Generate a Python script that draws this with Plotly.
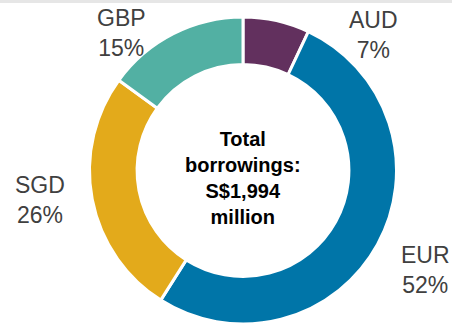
import plotly.graph_objects as go

currencies = ["AUD", "EUR", "SGD", "GBP"]
shares = [7, 52, 26, 15]
colors = ["#62305E", "#0075A8", "#E3AA1B", "#52B0A3"]
center_text = "Total<br>borrowings:<br>S$1,994<br>million"

W, H = 452, 324


def px(x, y):
    # window pixel -> paper coords
    return x / W, 1 - y / H


label_px = {
    "AUD": (373, 35),
    "EUR": (425, 270),
    "SGD": (40, 200),
    "GBP": (121, 33),
}

fig = go.Figure(go.Pie(
    labels=currencies,
    values=shares,
    marker=dict(colors=colors, line=dict(color="white", width=3)),
    hole=0.69,
    sort=False,
    direction="clockwise",
    rotation=0,
    textinfo="none",
    hoverinfo="label+percent",
    showlegend=False,
    domain=dict(x=[89 / W, 397 / W], y=[0, 1 - 17 / H]),
))

for cur, pct in zip(currencies, shares):
    x, y = px(*label_px[cur])
    fig.add_annotation(
        x=x, y=y, xref="paper", yref="paper",
        xanchor="center", yanchor="middle",
        text=f"{cur}<br>{pct}%",
        showarrow=False,
        font=dict(family="Liberation Sans, Arial", size=23, color="#404040"),
        align="center",
    )

cx, cy = px(243, 178)
fig.add_annotation(
    x=cx, y=cy, xref="paper", yref="paper",
    xanchor="center", yanchor="middle",
    text=f"<b>{center_text}</b>",
    showarrow=False,
    font=dict(family="Liberation Sans, Arial", size=20, color="#000000"),
    align="center",
)

# thin grey strip along the top edge
fig.add_shape(
    type="rect", xref="paper", yref="paper",
    x0=0, x1=1, y0=1 - 3 / H, y1=1,
    fillcolor="#E6E6E6", line=dict(width=0),
)

fig.update_layout(
    width=W, height=H,
    margin=dict(l=0, r=0, t=0, b=0),
    paper_bgcolor="white",
    plot_bgcolor="white",
)

# drop the default 8px body margin so the figure fills the window
fig.write_html(
    "out.html",
    config={"displayModeBar": False},
    post_script="document.body.style.margin='0';",
)
